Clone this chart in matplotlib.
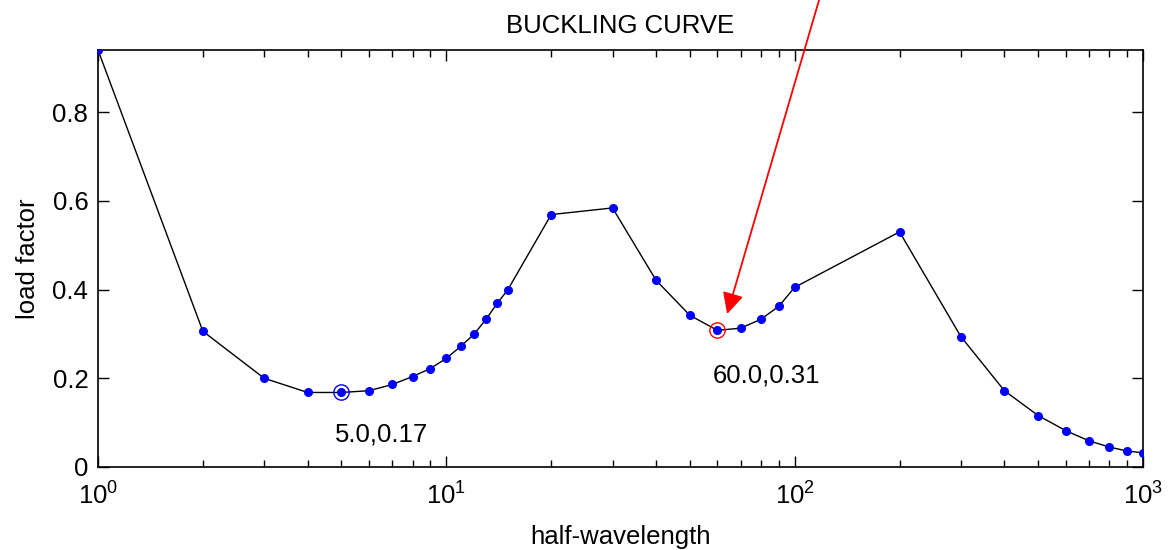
import matplotlib
matplotlib.use("Agg")
import matplotlib.pyplot as plt
from matplotlib.ticker import FixedLocator, FixedFormatter, LogLocator, NullFormatter

plt.rcParams['font.family'] = ['Liberation Sans', 'DejaVu Sans']
plt.rcParams['mathtext.fontset'] = 'custom'
plt.rcParams['mathtext.rm'] = 'Liberation Sans'

half_wavelength = [1, 2, 3, 4, 5, 6, 7, 8, 9, 10, 11, 12, 13, 14, 15, 20, 30, 40, 50,
                   60, 70, 80, 90, 100, 200, 300, 400, 500, 600, 700, 800, 900, 1000]
load_factor = [0.94, 0.306, 0.200, 0.168, 0.168, 0.172, 0.186, 0.204, 0.222, 0.245,
               0.272, 0.299, 0.333, 0.369, 0.399, 0.569, 0.584, 0.421, 0.342,
               0.308, 0.313, 0.333, 0.362, 0.405, 0.530, 0.294, 0.172, 0.116,
               0.082, 0.059, 0.045, 0.036, 0.032]
y_ticks = [0, 0.2, 0.4, 0.6, 0.8]
y_tick_labels = ['0', '0.2', '0.4', '0.6', '0.8']
min1 = (5.0, 0.168)
min2 = (60.0, 0.308)
label1 = "5.0,0.17"
label2 = "60.0,0.31"

FS = 18.5

fig = plt.figure(figsize=(11.68, 5.5), dpi=100)
ax = fig.add_axes([98/1168, 83/550, (1143-98)/1168, (467-50)/550])

ax.plot(half_wavelength, load_factor, '-', color='black', lw=1.0, zorder=2)
ax.plot(half_wavelength, load_factor, 'o', color='blue', ms=5.5, mec='blue', zorder=3)
ax.plot([min1[0]], [min1[1]], 'o', ms=11, mfc='none', mec='blue', mew=1.0, ls='none', zorder=4)
ax.plot([min2[0]], [min2[1]], 'o', ms=11, mfc='none', mec='red', mew=1.0, ls='none', zorder=4)

ax.text(4.8, 0.073, label1, fontsize=FS, va='center', ha='left')
ax.text(58.3, 0.206, label2, fontsize=FS, va='center', ha='left')

ax.annotate('', xy=(64, 0.345), xycoords='data',
            xytext=(822, 560), textcoords='figure pixels',
            arrowprops=dict(arrowstyle='-|>', color='red', lw=1.3, mutation_scale=32,
                            shrinkA=0, shrinkB=0),
            annotation_clip=False)

ax.set_xscale('log')
ax.set_xlim(1, 1000)
ax.set_ylim(0, 0.94)
ax.yaxis.set_major_locator(FixedLocator(y_ticks))
ax.yaxis.set_major_formatter(FixedFormatter(y_tick_labels))
ax.xaxis.set_major_locator(LogLocator(base=10, numticks=10))
ax.xaxis.set_minor_locator(LogLocator(base=10, subs=range(2, 10), numticks=10))
ax.xaxis.set_minor_formatter(NullFormatter())

ax.tick_params(which='both', direction='in', top=True, right=True, labelsize=FS, width=1)
ax.tick_params(which='major', length=8)
ax.tick_params(which='minor', length=5)
ax.tick_params(axis='x', pad=11)
ax.tick_params(axis='y', pad=7)
for s in ax.spines.values():
    s.set_linewidth(1.2)

ax.set_title('BUCKLING CURVE', fontsize=FS, pad=12)
ax.set_xlabel('half-wavelength', fontsize=FS, labelpad=11)
ax.set_ylabel('load factor', fontsize=FS, labelpad=9)

fig.savefig('out.png', dpi=100)
